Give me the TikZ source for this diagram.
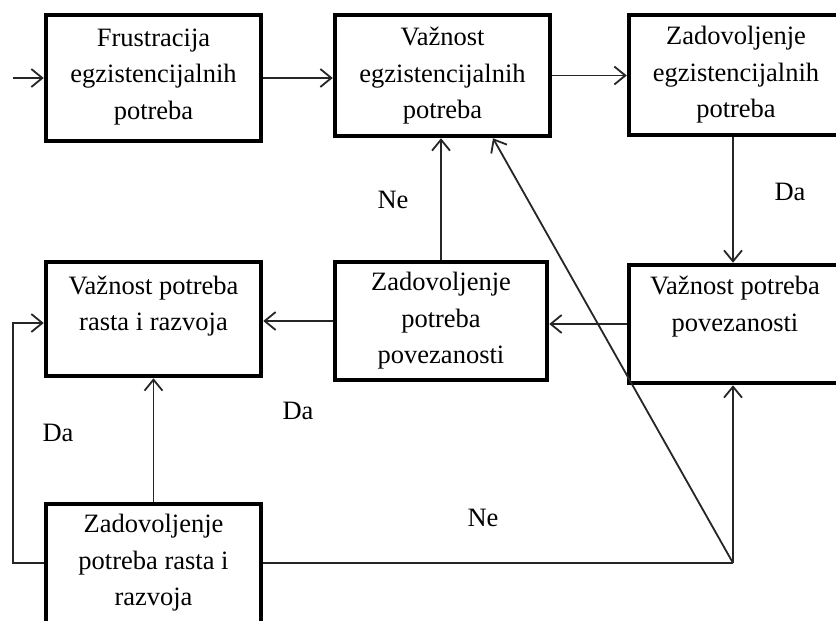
\documentclass[tikz,border=0pt]{standalone}
\usepackage{fontspec}
\setmainfont{Liberation Serif}
\usetikzlibrary{arrows.meta}
\tikzset{
  box/.style={draw, line width=4.5pt, inner sep=0pt},
  txt/.style={align=center, inner sep=0pt, font=\fontsize{26.5}{36.5}\selectfont},
  lbl/.style={inner sep=0pt, font=\fontsize{26.5}{30}\selectfont},
  conn/.style={line width=1.8pt, draw=black!85},
  arr/.style={conn, -{Straight Barb[length=11pt,width=18pt,line width=1.8pt]}}
}
\begin{document}
\begin{tikzpicture}[x=1pt,y=-1pt]
\clip (0,0) rectangle (836,621);
\fill[white] (0,0) rectangle (836,621);
% boxes
\node[box, minimum width=215pt, minimum height=126pt] (b1) at (153.5,78) {};
\node[box, minimum width=215pt, minimum height=121pt] (b2) at (442.5,75.5) {};
\node[box, minimum width=214pt, minimum height=120pt] (b3) at (736,75) {};
\node[box, minimum width=215pt, minimum height=114pt] (b4) at (153.5,319) {};
\node[box, minimum width=212pt, minimum height=118pt] (b5) at (441,321) {};
\node[box, minimum width=212pt, minimum height=118pt] (b6) at (735,324) {};
\node[box, minimum width=215pt, minimum height=129pt] (b7) at (153.5,568.5) {};
% texts
\node[txt] (t1) at (153.5,77) {Frustracija\\egzistencijalnih\\potreba};
\node[txt] (t2) at (442.5,76) {Važnost\\egzistencijalnih\\potreba};
\node[txt] (t3) at (736,75) {Zadovoljenje\\egzistencijalnih\\potreba};
\node[txt] (t4) at (153.5,306) {Važnost potreba\\rasta i razvoja};
\node[txt] (t5) at (441,321) {Zadovoljenje\\potreba\\povezanosti};
\node[txt] (t6) at (735,306.5) {Važnost potreba\\povezanosti};
\node[txt] (t7) at (153.5,563) {Zadovoljenje\\potreba rasta i\\razvoja};
% labels
\node[lbl] (l1) at (790,192) {Da};
\node[lbl] (l2) at (393,200) {Ne};
\node[lbl] (l3) at (298,411) {Da};
\node[lbl] (l4) at (58,433) {Da};
\node[lbl] (l5) at (483,518) {Ne};
% coordinates
\coordinate (in) at (13,78);
\coordinate (lp) at (13,563);
\coordinate (J) at (733,563);
% connectors
\draw[arr] (in) -- (b1.west);
\draw[arr] (b1.east) -- (b1.east -| b2.west);
\draw[arr] (b2.east) -- (b2.east -| b3.west);
\draw[arr] ([xshift=-3pt]b3.south) -- ([xshift=-3pt]b3.south |- b6.north);
\draw[arr] (b6.west) -- (b6.west -| b5.east);
\draw[arr] (b5.west) -- (b5.west -| b4.east);
\draw[arr] (b5.north) -- (b5.north |- b2.south);
\draw[arr] (b7.north) -- (b7.north |- b4.south);
\draw[arr] (b7.west |- lp) -- (lp) |- ([yshift=-4pt]b4.west);
\draw[conn] (b7.east |- J) -- (J);
\draw[arr] (J) -- (J |- b6.south);
\draw[arr] (J) -- ([xshift=50.5pt]b2.south);
\end{tikzpicture}
\end{document}
